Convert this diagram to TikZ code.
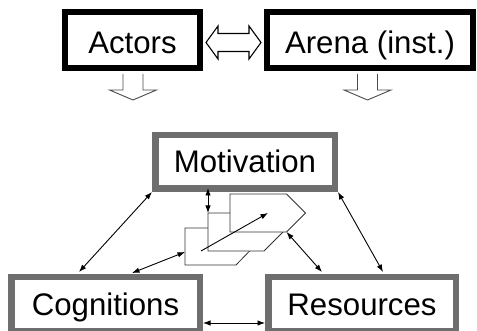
\documentclass[tikz,border=0pt]{standalone}
\usepackage{fontspec}
\setmainfont{Liberation Sans}
\usetikzlibrary{arrows.meta,calc}
\definecolor{bordergray}{RGB}{110,110,110}
\begin{document}
\begin{tikzpicture}[x=1pt,y=-1pt,
  boxfont/.style={font=\fontsize{31.2}{36}\selectfont},
  boxblack/.style={boxfont,draw=black,line width=6pt,fill=white,inner sep=0pt,text height=27pt,text depth=0pt},
  boxgray/.style={boxfont,draw=bordergray,line width=6.5pt,fill=white,inner sep=0pt,text height=22pt,text depth=0pt},
  link/.style={line width=0.9pt,{Latex[length=7.5pt,width=5.5pt]}-{Latex[length=7.5pt,width=5.5pt]}},
  linkone/.style={line width=0.9pt,-{Latex[length=7.5pt,width=5.5pt]}},
  blockarrow/.style={fill=white,draw=black!70,line width=0.9pt},
  hblockarrow/.style={fill=white,draw=black,line width=1.1pt},
  panel/.style={fill=white,draw=black!80,line width=0.8pt}]
\useasboundingbox (0,0) rectangle (477,331);

% boxes
\node[boxblack,minimum width=135pt,minimum height=56pt] (act) at (132.5,40) {Actors};
\node[boxblack,minimum width=206pt,minimum height=56pt] (arena) at (370,40) {Arena (inst.)};
\node[boxgray,minimum width=179.5pt,minimum height=53.5pt] (mot) at (245,162) {Motivation};
\node[boxgray,minimum width=188.5pt,minimum height=54.5pt] (cog) at (105.5,304.5) {Cognitions};
\node[boxgray,minimum width=187.5pt,minimum height=54.5pt] (res) at (362,304.5) {Resources};

% horizontal double block arrow
\coordinate (dl) at ($(act.east)+(3,2.5)$);
\coordinate (dr) at ($(arena.west)+(-3,2.5)$);
\filldraw[hblockarrow] (dl) -- ++(12,-16.5) -- ++(0,7.5) -- ($(dr)+(-12,-9)$) -- ++(0,-7.5)
  -- (dr) -- ++(-12,16.5) -- ++(0,-7.5) -- ($(dl)+(12,9)$) -- ++(0,7.5) -- cycle;

% down block arrows
\coordinate (da) at ($(act.south)+(0.5,3)$);
\coordinate (db) at ($(arena.south)+(-2.5,3)$);
\foreach \c in {da,db}{
  \filldraw[blockarrow] ($(\c)+(-10,0)$) -- ++(0,16) -- ++(-13.5,0) -- ($(\c)+(0,26)$)
    -- ($(\c)+(23.5,16)$) -- ++(-13.5,0) -- ($(\c)+(10,0)$);
}

% panels (back to front)
\coordinate (pC) at (185,228);
\coordinate (pB) at (208,213);
\coordinate (pA) at (230,194);
\filldraw[panel] (pC) -- ++(51,0) -- ++(18,18.5) -- ++(-18,18.5) -- ++(-51,0) -- cycle;
\filldraw[panel] (pB) -- ++(56,0) -- ++(19,19) -- ++(-19,19) -- ++(-56,0) -- cycle;
\filldraw[panel] (pA) -- ++(56.5,0) -- ++(19,19) -- ++(-19,19) -- ++(-56.5,0) -- cycle;

% connectors
\coordinate (dtail) at ($(pC)+(16,23)$);
\coordinate (dhead) at ($(pA)+(38,19)$);
\draw[linkone] (dtail) -- (dhead);
\draw[link] (mot.south west) -- ($(cog.north west)+(71,-2)$);
\draw[link] (mot.south east) -- ($(res.north west)+(118,-2)$);
\draw[link] ($(mot.south)+(-37,-4)$) -- (pB);
\draw[link] ($(cog.north west)+(124,-1)$) -- ($(pC)+(0,24)$);
\draw[link] ($(pA)+(56.5,38)$) -- ($(res.north west)+(57,-2)$);
\draw[link] ($(cog.north east)+(0,49)$) -- ($(res.north west)+(0,49)$);
\end{tikzpicture}
\end{document}
